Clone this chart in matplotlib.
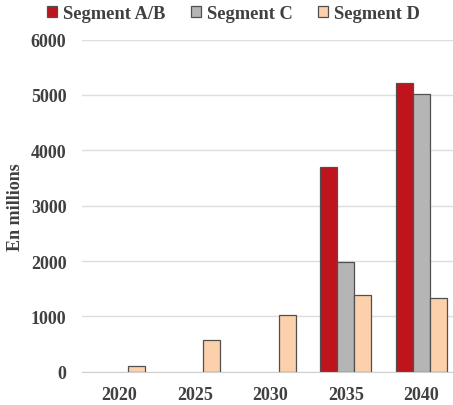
import matplotlib
matplotlib.use("Agg")
import matplotlib.pyplot as plt
import numpy as np

years = ["2020", "2025", "2030", "2035", "2040"]
seg_ab = [0, 0, 0, 3690, 5220]
seg_c = [0, 0, 0, 1990, 5020]
seg_d = [95, 570, 1030, 1390, 1340]
series_names = ["Segment A/B", "Segment C", "Segment D"]
colors = ["#C0141C", "#B5B5B5", "#FCD0AA"]
yticks = [0, 1000, 2000, 3000, 4000, 5000, 6000]

plt.rcParams['font.family'] = ['Liberation Serif', 'DejaVu Serif']
plt.rcParams['font.weight'] = 'bold'

fig = plt.figure(figsize=(4.53, 4.06), dpi=100)
ax = fig.add_axes([0.1805, 0.082, 0.8195, 0.818])

x = np.arange(len(years))
w = 0.225
txt = "#404040"
for i, (vals, name, c) in enumerate(zip([seg_ab, seg_c, seg_d], series_names, colors)):
    heights = np.array(vals, dtype=float)
    mask = heights > 0
    ax.bar(x[mask] + (i - 1) * w, heights[mask], width=w, color=c,
           edgecolor="#505050", linewidth=0.9, label=name, zorder=3)

ax.set_xlim(-0.5, 4.42)
ax.set_ylim(0, 6000)
ax.set_yticks(yticks)
ax.set_yticklabels([str(t) for t in yticks])
ax.set_xticks(x)
ax.set_xticklabels(years)
ax.tick_params(axis='both', length=0, labelsize=13, colors=txt)
ax.tick_params(axis='y', pad=11)
ax.tick_params(axis='x', pad=10)
for lab in ax.get_xticklabels() + ax.get_yticklabels():
    lab.set_fontweight('bold')
ax.grid(axis='y', color="#DDDDDD", linewidth=1, zorder=0)
for s in ['left', 'right', 'top']:
    ax.spines[s].set_visible(False)
ax.spines['bottom'].set_color("#D0D0D0")
ax.spines['bottom'].set_zorder(4)

fig.text(0.034, 0.49, "En millions", rotation=90, ha='center', va='center',
         fontsize=13, fontweight='bold', color=txt)

leg = fig.legend(loc='center', bbox_to_anchor=(0.515, 0.965), ncol=3, frameon=False,
                 fontsize=13.3, handlelength=0.55, handleheight=0.55,
                 handletextpad=0.3, columnspacing=1.4, borderaxespad=0)
for t in leg.get_texts():
    t.set_color(txt)
    t.set_fontweight('bold')

fig.savefig("out.png", dpi=100)
